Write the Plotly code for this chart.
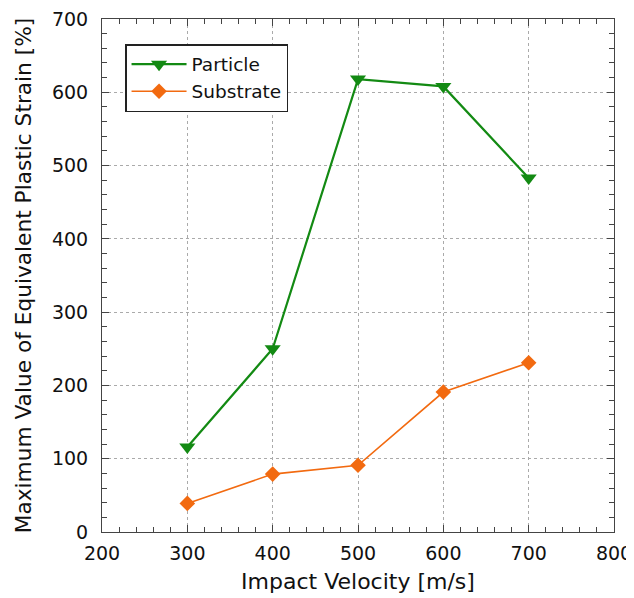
import plotly.graph_objects as go

velocity = [300, 400, 500, 600, 700]
particle = [116, 250, 618, 608, 483]
substrate = [39, 79, 91, 191, 231]

green = "#138a13"
orange = "#f26a10"
font_family = "DejaVu Sans"

fig = go.Figure()
fig.add_trace(go.Scatter(
    x=velocity, y=particle, mode="lines+markers", name="Particle",
    line=dict(color=green, width=2.2),
    marker=dict(symbol="triangle-down", size=14, color=green),
))
fig.add_trace(go.Scatter(
    x=velocity, y=substrate, mode="lines+markers", name="Substrate",
    line=dict(color=orange, width=1.6),
    marker=dict(symbol="diamond", size=12, color=orange),
))

axis_common = dict(
    showline=True, linecolor="#444", linewidth=1, mirror="ticks",
    ticks="inside", ticklen=7, tickcolor="#444",
    showgrid=True, gridcolor="#aaaaaa", griddash="dot", gridwidth=1,
    zeroline=False, automargin=False, ticklabeloverflow="allow",
    tickfont=dict(family=font_family, size=19, color="#111"),
    minor=dict(ticks="inside", ticklen=5, tickcolor="#444", showgrid=False),
)

fig.update_xaxes(
    range=[200, 800], dtick=100, minor_dtick=20, ticklabelstandoff=4,
    title=dict(text="Impact Velocity [m/s]", font=dict(family=font_family, size=22, color="#111"), standoff=10),
    **axis_common,
)
fig.update_yaxes(
    range=[0, 700], dtick=100, minor_dtick=20, ticklabelstandoff=9,
    title=dict(text="Maximum Value of Equivalent Plastic Strain [%]", font=dict(family=font_family, size=21.7, color="#111"), standoff=14),
    **axis_common,
)

fig.update_layout(
    width=626, height=590,
    margin=dict(l=94, r=20, t=11, b=66),
    plot_bgcolor="white", paper_bgcolor="white",
    legend=dict(
        x=0.045, y=0.951, xanchor="left", yanchor="top",
        bordercolor="#222", borderwidth=1.5, bgcolor="white",
        font=dict(family=font_family, size=18.5, color="#111"),
        itemwidth=55,
    ),
)

fig.write_html("out.html")
